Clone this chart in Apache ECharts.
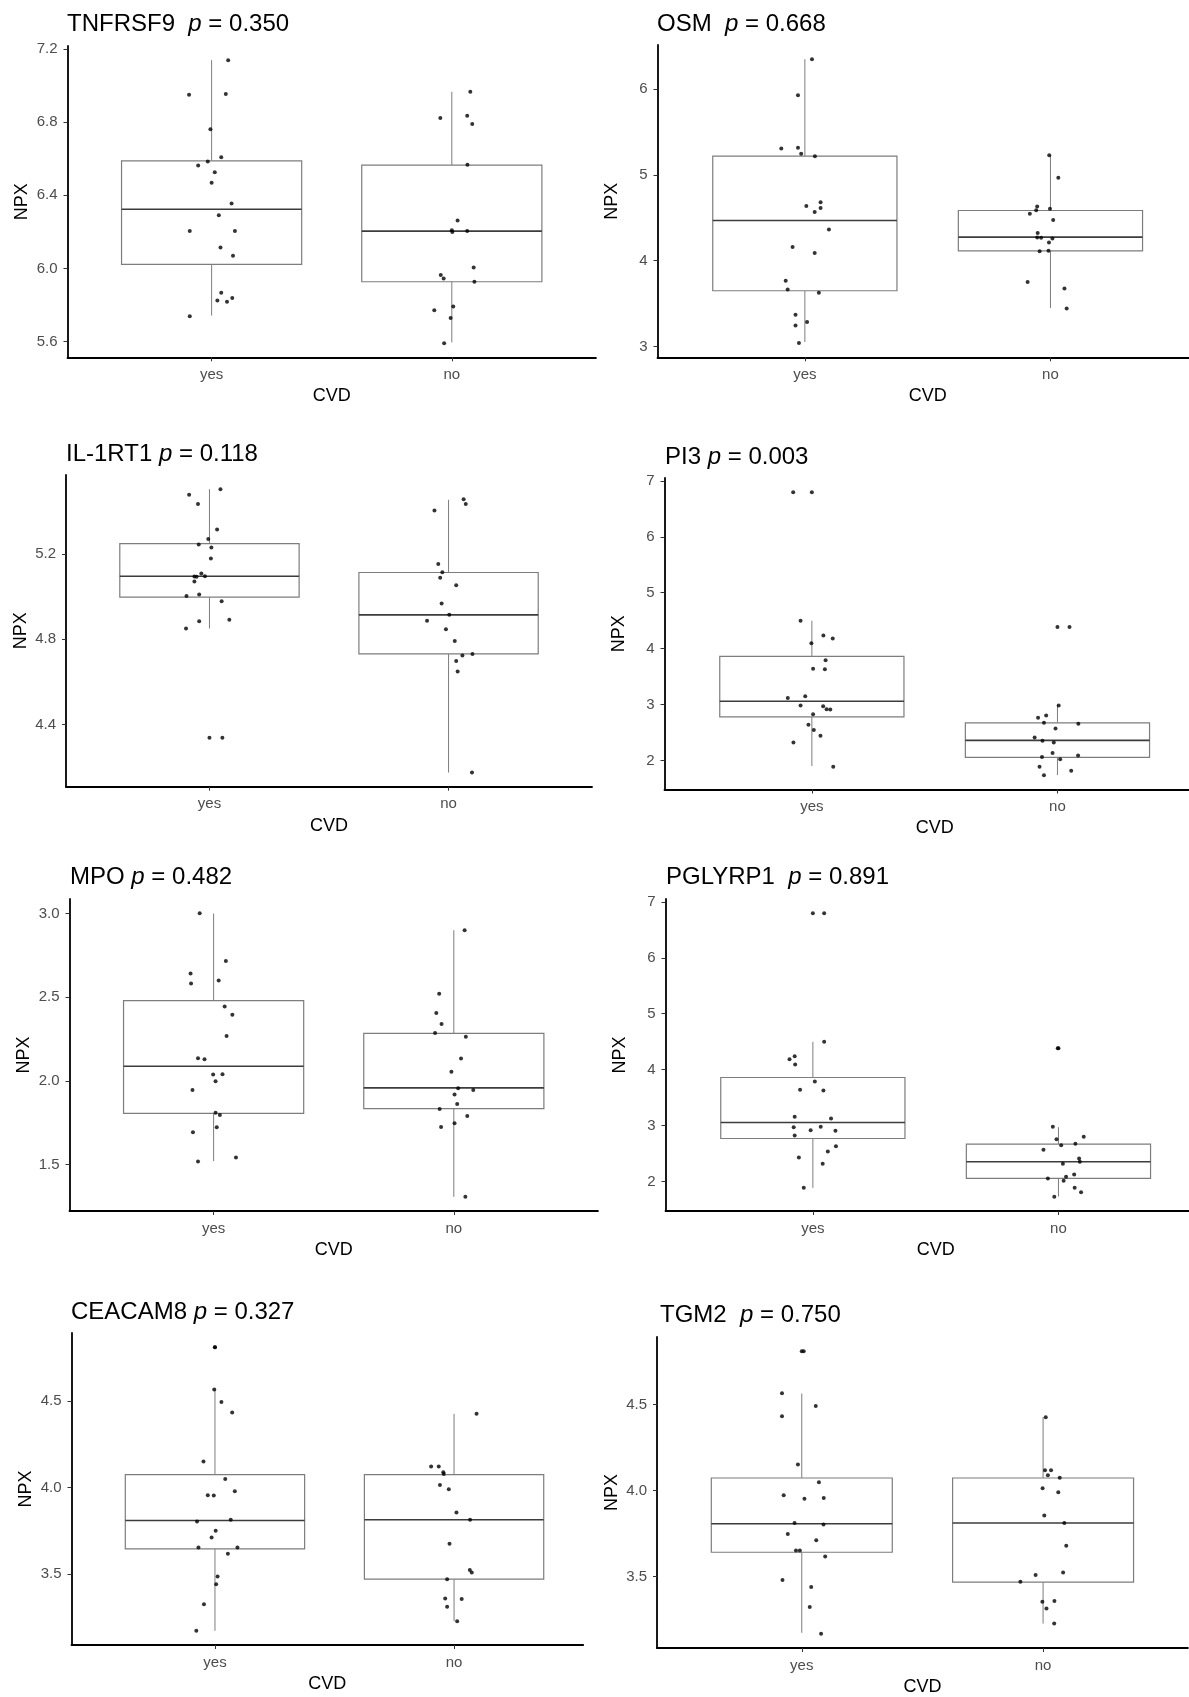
<!DOCTYPE html>
<html>
<head>
<meta charset="utf-8">
<script src="https://cdn.jsdelivr.net/npm/echarts@6/dist/echarts.min.js"></script>
<style>
  html, body { margin: 0; padding: 0; background: #fff; }
  #chart { width: 1189px; height: 1697px; }
</style>
</head>
<body>
<div id="chart"></div>
<script>
// ---------------- DATA ----------------
const categories = ['yes', 'no'];
const panelNames = ['TNFRSF9', 'OSM', 'IL-1RT1', 'PI3', 'MPO', 'PGLYRP1', 'CEACAM8', 'TGM2'];
const pValues = ['0.350', '0.668', '0.118', '0.003', '0.482', '0.891', '0.327', '0.750'];

// box stats per group: [lower whisker, Q1, median, Q3, upper whisker]
const tnfrsf9Box = [[5.742, 6.022, 6.324, 6.589, 7.14], [5.595, 5.927, 6.204, 6.565, 6.967]];
const osmBox     = [[3.05, 3.649, 4.469, 5.219, 6.35], [3.447, 4.115, 4.274, 4.585, 5.23]];
const il1rt1Box  = [[4.85, 4.997, 5.095, 5.248, 5.503], [4.175, 4.731, 4.914, 5.1125, 5.453]];
const pi3Box     = [[1.899, 2.779, 3.058, 3.861, 4.497], [1.738, 2.053, 2.357, 2.672, 2.993]];
const mpoBox     = [[1.52, 1.806, 2.087, 2.479, 3.0], [1.307, 1.834, 1.958, 2.284, 2.9]];
const pglyrp1Box = [[1.887, 2.769, 3.055, 3.859, 4.497], [1.732, 2.054, 2.352, 2.667, 2.971]];
const ceacam8Box = [[3.17, 3.645, 3.809, 4.075, 4.568], [3.226, 3.469, 3.813, 4.075, 4.427]];
const tgm2Box    = [[3.172, 3.641, 3.807, 4.073, 4.564], [3.226, 3.467, 3.811, 4.073, 4.427]];

// outliers drawn by the boxplot (per group)
const tnfrsf9Out = [[], []];
const osmOut     = [[], []];
const il1rt1Out  = [[4.3375], []];
const pi3Out     = [[6.798], [4.384]];
const mpoOut     = [[], []];
const pglyrp1Out = [[6.797], [4.384]];
const ceacam8Out = [[4.813], []];
const tgm2Out    = [[4.811], []];

// jittered points: [jitter offset (category units), NPX]
const tnfrsf9Yes = [[0.069,7.14],[-0.094,6.951],[0.059,6.955],[-0.005,6.762],[0.04,6.609],[-0.016,6.585],[-0.056,6.564],[0.013,6.527],[0,6.469],[0.083,6.355],[0.03,6.291],[-0.091,6.205],[0.097,6.205],[0.037,6.115],[0.089,6.069],[0.04,5.867],[0.024,5.825],[0.064,5.818],[0.086,5.838],[-0.091,5.738]];
const tnfrsf9No  = [[0.077,6.967],[-0.048,6.824],[0.064,6.836],[0.085,6.791],[0.065,6.567],[0.024,6.262],[0,6.209],[0.002,6.2],[0.064,6.205],[0.091,6.005],[-0.046,5.964],[-0.034,5.945],[0.094,5.927],[0.006,5.791],[-0.073,5.771],[-0.005,5.729],[-0.032,5.591]];
const osmYes = [[0.029,6.35],[-0.028,5.93],[-0.096,5.308],[-0.028,5.316],[-0.015,5.246],[0.041,5.219],[0.006,4.636],[0.064,4.682],[0.04,4.566],[0.064,4.613],[0.098,4.364],[-0.05,4.158],[0.04,4.088],[-0.078,3.765],[-0.07,3.664],[0.057,3.625],[-0.038,3.369],[0.009,3.283],[-0.038,3.244],[-0.024,3.038]];
const osmNo  = [[-0.005,5.23],[0.032,4.966],[-0.084,4.546],[-0.058,4.589],[-0.054,4.632],[-0.002,4.605],[0.011,4.473],[-0.052,4.321],[-0.054,4.27],[-0.038,4.267],[0.008,4.259],[-0.006,4.212],[-0.044,4.111],[-0.008,4.115],[-0.093,3.75],[0.057,3.676],[0.066,3.443]];
const il1rt1Yes = [[0.046,5.503],[-0.085,5.477],[-0.048,5.434],[0.032,5.314],[-0.005,5.269],[-0.045,5.244],[0.008,5.23],[0.006,5.178],[-0.034,5.108],[-0.063,5.094],[-0.054,5.092],[-0.019,5.095],[-0.063,5.07],[-0.096,5.002],[-0.043,5.009],[0.051,4.978],[-0.043,4.884],[0.083,4.891],[-0.098,4.85],[0.054,4.3375]];
const il1rt1No  = [[0.063,5.456],[0.072,5.434],[-0.059,5.403],[-0.043,5.152],[-0.026,5.114],[-0.035,5.0875],[0.032,5.053],[-0.029,4.967],[0.003,4.914],[-0.09,4.886],[-0.011,4.847],[0.026,4.792],[0.058,4.723],[0.1,4.73],[0.032,4.698],[0.038,4.648],[0.098,4.175]];
const pi3Yes = [[-0.076,6.798],[-0.046,4.497],[0.047,4.235],[0.085,4.182],[-0.002,4.093],[0.056,3.79],[0.005,3.641],[0.053,3.629],[-0.027,3.147],[-0.098,3.117],[-0.046,2.981],[0.046,2.969],[0.06,2.916],[0.075,2.91],[0.005,2.826],[-0.014,2.636],[0.008,2.541],[0.035,2.44],[-0.075,2.321],[0.087,1.887]];
const pi3No  = [[0.049,4.384],[0.005,2.981],[-0.079,2.761],[-0.046,2.803],[-0.055,2.672],[0.085,2.654],[-0.008,2.571],[-0.093,2.41],[-0.061,2.351],[-0.015,2.321],[-0.02,2.131],[-0.063,2.059],[0.084,2.089],[0.011,2.018],[-0.073,1.887],[0.056,1.816],[-0.055,1.732]];
const mpoYes = [[-0.058,3.002],[0.051,2.716],[-0.096,2.642],[0.021,2.6],[-0.094,2.582],[0.046,2.445],[0.078,2.395],[0.054,2.268],[-0.065,2.135],[-0.038,2.129],[-0.002,2.038],[0.037,2.04],[0.008,1.997],[-0.088,1.946],[0.008,1.81],[0.026,1.796],[0.013,1.723],[-0.086,1.693],[0.093,1.542],[-0.065,1.518]];
const mpoNo  = [[0.045,2.9],[-0.061,2.52],[-0.073,2.405],[-0.051,2.34],[-0.078,2.286],[0.05,2.264],[0.03,2.133],[-0.01,2.055],[0.018,1.956],[0.081,1.946],[0.003,1.918],[0.014,1.862],[-0.059,1.832],[0.056,1.79],[0.003,1.746],[-0.053,1.724],[0.048,1.307]];
const pglyrp1Yes = [[0.046,6.797],[0.046,4.497],[-0.095,4.187],[-0.074,4.241],[-0.072,4.092],[0.008,3.788],[-0.052,3.639],[0.043,3.627],[-0.074,3.156],[0.074,3.126],[-0.078,2.971],[0.032,2.977],[-0.009,2.918],[0.092,2.906],[-0.074,2.822],[0.094,2.632],[0.061,2.536],[-0.057,2.429],[0.04,2.316],[-0.037,1.887]];
const pglyrp1No  = [[-0.003,4.384],[-0.023,2.977],[-0.008,2.757],[0.103,2.799],[0.011,2.65],[0.069,2.674],[-0.061,2.566],[0.084,2.411],[0.087,2.352],[0.018,2.316],[0.064,2.125],[0.031,2.083],[-0.043,2.054],[0.021,2.012],[0.066,1.887],[0.092,1.809],[-0.017,1.726]];
const ceacam8Yes = [[0.0,4.813],[-0.003,4.568],[0.027,4.496],[0.072,4.434],[-0.048,4.151],[0.043,4.05],[0.083,3.979],[-0.03,3.956],[-0.005,3.954],[-0.075,3.803],[0.066,3.813],[0.003,3.749],[-0.014,3.71],[-0.069,3.652],[0.094,3.652],[0.054,3.616],[0.011,3.485],[0.005,3.44],[-0.046,3.324],[-0.078,3.17]];
const ceacam8No  = [[0.094,4.427],[-0.096,4.122],[-0.064,4.122],[-0.045,4.089],[-0.043,4.079],[-0.059,4.015],[-0.022,3.99],[0.01,3.855],[0.067,3.813],[-0.019,3.674],[0.066,3.523],[0.074,3.508],[-0.029,3.469],[-0.037,3.357],[0.032,3.355],[-0.029,3.309],[0.013,3.226]];
const tgm2Yes = [[0.008,4.811],[-0.082,4.566],[-0.082,4.432],[0.058,4.492],[-0.016,4.151],[0.071,4.048],[-0.075,3.973],[0.011,3.952],[0.091,3.956],[-0.03,3.811],[0.09,3.803],[-0.058,3.747],[0.06,3.71],[-0.024,3.651],[-0.008,3.651],[0.097,3.616],[-0.08,3.479],[0.039,3.438],[0.033,3.322],[0.08,3.166]];
const tgm2No  = [[0.011,4.427],[0.008,4.118],[0.033,4.118],[0.02,4.089],[0.069,4.075],[-0.002,4.013],[0.063,3.99],[0.005,3.855],[0.088,3.811],[0.096,3.678],[0.083,3.523],[-0.031,3.508],[-0.094,3.469],[-0.003,3.353],[0.047,3.357],[0.014,3.313],[0.046,3.226]];

// y tick labels
const tnfrsf9Ticks = ['5.6', '6.0', '6.4', '6.8', '7.2'];
const osmTicks     = ['3', '4', '5', '6'];
const il1rt1Ticks  = ['4.4', '4.8', '5.2'];
const pi3Ticks     = ['2', '3', '4', '5', '6', '7'];
const mpoTicks     = ['1.5', '2.0', '2.5', '3.0'];
const pglyrp1Ticks = ['2', '3', '4', '5', '6', '7'];
const ceacam8Ticks = ['3.5', '4.0', '4.5'];
const tgm2Ticks    = ['3.5', '4.0', '4.5'];

const xAxisName = 'CVD';
const yAxisName = 'NPX';

// ---------------- LAYOUT / STYLE ----------------
const FONT = '"Liberation Sans", Arial, Helvetica, sans-serif';
const BOX_COLOR = '#7d7d7d';
const MED_COLOR = '#3c3c3c';
const BOX_HALF = 0.375;

// left, top, bottom (px), px per category unit, x max, title position
const layout = [
  { left: 67.5, top: 46,   bottom: 357.3,  unit: 240.2, xMax: 2.6,  tLeft: 67,  tTop: 10.8 },
  { left: 657.5,top: 45,   bottom: 357.3,  unit: 245.6, xMax: 2.6,  tLeft: 657, tTop: 10.8 },
  { left: 66,   top: 475,  bottom: 786.7,  unit: 239.1, xMax: 2.6,  tLeft: 66,  tTop: 440 },
  { left: 664.5,top: 478,  bottom: 789.5,  unit: 245.6, xMax: 2.6,  tLeft: 665, tTop: 443 },
  { left: 69.5, top: 899,  bottom: 1211,   unit: 240.2, xMax: 2.6,  tLeft: 70,  tTop: 863.5 },
  { left: 665.5,top: 899,  bottom: 1211,   unit: 245.6, xMax: 2.6,  tLeft: 666, tTop: 863 },
  { left: 71.5, top: 1333, bottom: 1645,   unit: 239.1, xMax: 2.54, tLeft: 71,  tTop: 1298 },
  { left: 657,  top: 1337, bottom: 1648,   unit: 241.3, xMax: 2.6,  tLeft: 660, tTop: 1301 }
];
const titleSep = ['  ', '  ', ' ', ' ', ' ', '  ', ' ', '  '];

const panels = [
  { box: tnfrsf9Box, out: tnfrsf9Out, pts: [tnfrsf9Yes, tnfrsf9No], ticks: tnfrsf9Ticks },
  { box: osmBox,     out: osmOut,     pts: [osmYes, osmNo],         ticks: osmTicks },
  { box: il1rt1Box,  out: il1rt1Out,  pts: [il1rt1Yes, il1rt1No],   ticks: il1rt1Ticks },
  { box: pi3Box,     out: pi3Out,     pts: [pi3Yes, pi3No],         ticks: pi3Ticks },
  { box: mpoBox,     out: mpoOut,     pts: [mpoYes, mpoNo],         ticks: mpoTicks },
  { box: pglyrp1Box, out: pglyrp1Out, pts: [pglyrp1Yes, pglyrp1No], ticks: pglyrp1Ticks },
  { box: ceacam8Box, out: ceacam8Out, pts: [ceacam8Yes, ceacam8No], ticks: ceacam8Ticks },
  { box: tgm2Box,    out: tgm2Out,    pts: [tgm2Yes, tgm2No],       ticks: tgm2Ticks }
];

function renderBox(params, api) {
  const x = api.value(0);
  const lo = api.coord([x, api.value(1)]);
  const q1 = api.coord([x, api.value(2)]);
  const med = api.coord([x, api.value(3)]);
  const q3 = api.coord([x, api.value(4)]);
  const hi = api.coord([x, api.value(5)]);
  const half = api.size([BOX_HALF, 0])[0];
  const cx = q1[0];
  const ws = { stroke: BOX_COLOR, lineWidth: 1 };
  return {
    type: 'group',
    children: [
      { type: 'line', shape: { x1: cx, y1: q3[1], x2: cx, y2: hi[1] }, style: ws },
      { type: 'line', shape: { x1: cx, y1: q1[1], x2: cx, y2: lo[1] }, style: ws },
      { type: 'rect', shape: { x: cx - half, y: q3[1], width: 2 * half, height: q1[1] - q3[1] },
        style: { fill: '#ffffff', stroke: BOX_COLOR, lineWidth: 1.2 } },
      { type: 'line', shape: { x1: cx - half, y1: med[1], x2: cx + half, y2: med[1] },
        style: { stroke: MED_COLOR, lineWidth: 1.6 } }
    ]
  };
}

const option = {
  animation: false,
  backgroundColor: '#ffffff',
  title: [], grid: [], xAxis: [], yAxis: [], series: []
};

panels.forEach(function (p, k) {
  const L = layout[k];
  // data range (ggplot-like 5% expansion)
  let all = [];
  p.box.forEach(function (b) { all = all.concat(b); });
  p.out.forEach(function (o) { all = all.concat(o); });
  p.pts.forEach(function (g) { g.forEach(function (d) { all.push(d[1]); }); });
  const dMin = Math.min.apply(null, all), dMax = Math.max.apply(null, all);
  const pad = (dMax - dMin) * 0.05;
  const tickVals = p.ticks.map(Number);

  option.title.push({
    text: panelNames[k] + titleSep[k] + '{i|p} = ' + pValues[k],
    left: L.tLeft, top: L.tTop, padding: 0,
    textStyle: {
      fontFamily: FONT, fontSize: 24, fontWeight: 'normal', color: '#000', lineHeight: 28,
      rich: { i: { fontFamily: FONT, fontSize: 24, fontStyle: 'italic', color: '#000', lineHeight: 28 } }
    }
  });
  option.grid.push({
    left: L.left, top: L.top, width: L.unit * (L.xMax - 0.4), height: L.bottom - L.top,
    containLabel: false, outerBoundsMode: 'none'
  });
  option.xAxis.push({
    type: 'value', gridIndex: k, min: 0.4, max: L.xMax,
    axisLine: { show: true, onZero: false, lineStyle: { color: '#000', width: 1.8 } },
    axisTick: { show: true, customValues: [1, 2], length: 4, lineStyle: { color: '#333', width: 1 } },
    axisLabel: {
      show: true, customValues: [1, 2], margin: 10,
      formatter: function (v) { return categories[Math.round(v) - 1] || ''; },
      color: '#4d4d4d', fontSize: 15, fontFamily: FONT
    },
    splitLine: { show: false },
    name: xAxisName, nameLocation: 'middle', nameGap: 30,
    nameTextStyle: { color: '#000', fontSize: 18, fontFamily: FONT }
  });
  option.yAxis.push({
    type: 'value', gridIndex: k, min: dMin - pad, max: dMax + pad,
    axisLine: { show: true, onZero: false, lineStyle: { color: '#000', width: 1.8 } },
    axisTick: { show: true, customValues: tickVals, length: 4, lineStyle: { color: '#333', width: 1 } },
    axisLabel: {
      show: true, customValues: tickVals, margin: 10,
      formatter: function (v) {
        let best = 0;
        tickVals.forEach(function (t, i) { if (Math.abs(t - v) < Math.abs(tickVals[best] - v)) best = i; });
        return p.ticks[best];
      },
      color: '#4d4d4d', fontSize: 15, fontFamily: FONT
    },
    splitLine: { show: false },
    name: yAxisName, nameLocation: 'middle', nameGap: 36,
    nameTextStyle: { color: '#000', fontSize: 18, fontFamily: FONT }
  });

  option.series.push({
    type: 'custom', xAxisIndex: k, yAxisIndex: k, renderItem: renderBox,
    encode: { x: 0, y: [1, 2, 3, 4, 5] },
    data: p.box.map(function (b, i) { return [i + 1].concat(b); }),
    z: 2, silent: true
  });
  const outData = [];
  p.out.forEach(function (o, i) { o.forEach(function (v) { outData.push([i + 1, v]); }); });
  option.series.push({
    type: 'scatter', xAxisIndex: k, yAxisIndex: k, data: outData,
    symbol: 'circle', symbolSize: 4, itemStyle: { color: '#000' }, z: 3, silent: true
  });
  const jit = [];
  p.pts.forEach(function (g, i) { g.forEach(function (d) { jit.push([i + 1 + d[0], d[1]]); }); });
  option.series.push({
    type: 'scatter', xAxisIndex: k, yAxisIndex: k, data: jit,
    symbol: 'circle', symbolSize: 4, itemStyle: { color: '#000' }, z: 4, silent: true
  });
});

const chart = echarts.init(document.getElementById('chart'), null, { renderer: 'canvas' });
chart.setOption(option);
</script>
</body>
</html>
